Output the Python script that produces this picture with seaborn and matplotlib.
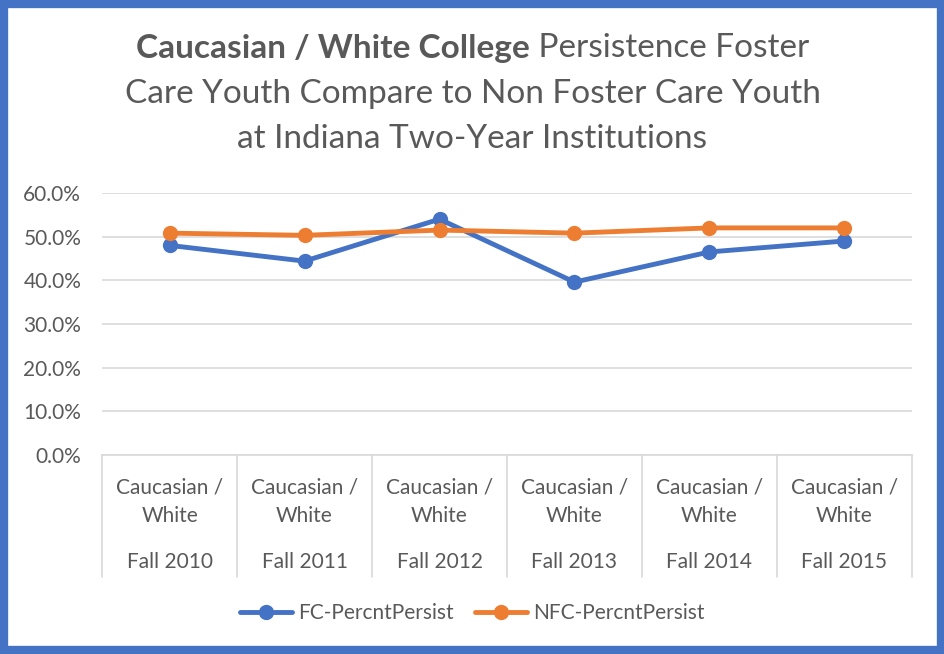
import numpy as np
import pandas as pd
import matplotlib
matplotlib.use("Agg")
import matplotlib.pyplot as plt
from matplotlib.patches import Rectangle
from matplotlib.ticker import PercentFormatter
import seaborn as sns

terms = ['Fall 2010', 'Fall 2011', 'Fall 2012', 'Fall 2013', 'Fall 2014', 'Fall 2015']
group = 'Caucasian /\nWhite'
fc = [48.0, 44.4, 54.0, 39.6, 46.5, 49.0]
nfc = [50.8, 50.3, 51.5, 50.8, 52.0, 52.0]
series = ['FC-PercntPersist', 'NFC-PercntPersist']
colors = ['#4472C4', '#ED7D31']

df = pd.DataFrame({
    'term': terms * 2,
    'value': fc + nfc,
    'series': [series[0]] * len(terms) + [series[1]] * len(terms),
})
df['x'] = list(range(len(terms))) * 2

sns.set_style('white')
plt.rcParams['font.family'] = ['Lato', 'DejaVu Sans']
grey = '#595959'

fig = plt.figure(figsize=(9.45, 6.54), dpi=100)
ax = fig.add_axes([0.108, 0.304, 0.857, 0.401])

sns.lineplot(data=df, x='x', y='value', hue='series', palette=colors,
             marker='o', markersize=11, markeredgewidth=0, linewidth=3.5,
             ax=ax, legend=False)

ax.set_xlim(-0.5, len(terms) - 0.5)
ax.set_ylim(0, 60)
ax.set_yticks(np.arange(0, 61, 10))
ax.yaxis.set_major_formatter(PercentFormatter(decimals=1))
ax.tick_params(axis='y', labelsize=15, labelcolor=grey, length=0, pad=15)
ax.set_xticks([])
ax.set_xlabel('')
ax.set_ylabel('')
ax.grid(axis='y', color='#d9d9d9', linewidth=1.2)
ax.set_axisbelow(True)
for s in ['top', 'right', 'left']:
    ax.spines[s].set_visible(False)
ax.spines['bottom'].set_color('#d9d9d9')
ax.spines['bottom'].set_linewidth(1.2)

# category labels below the axis
trans = ax.get_xaxis_transform()
for i, t in enumerate(terms):
    ax.text(i, -0.178, group, transform=trans, ha='center', va='center',
            fontsize=15, color=grey, linespacing=1.5)
    ax.text(i, -0.408, t, transform=trans, ha='center', va='center',
            fontsize=15, color=grey)
for i in range(len(terms) + 1):
    ax.plot([i - 0.5, i - 0.5], [0, -0.465], transform=trans, color='#d9d9d9',
            linewidth=1.2, clip_on=False)

# title with bold leading part
fig.canvas.draw()
r = fig.canvas.get_renderer()
bold = fig.text(0, 0.926, 'Caucasian / White College', fontsize=24,
                fontweight='bold', color=grey, ha='left', va='center')
rest = fig.text(0, 0.926, ' Persistence Foster', fontsize=24,
                color=grey, ha='left', va='center')
wb = bold.get_window_extent(r).width
wr = rest.get_window_extent(r).width
x0 = (fig.bbox.width - wb - wr) / 2 / fig.bbox.width
bold.set_x(x0)
rest.set_x(x0 + wb / fig.bbox.width)
fig.text(0.5, 0.856, 'Care Youth Compare to Non Foster Care Youth', fontsize=24,
         color=grey, ha='center', va='center')
fig.text(0.5, 0.787, 'at Indiana Two-Year Institutions', fontsize=24,
         color=grey, ha='center', va='center')

handles = [plt.Line2D([], [], color=c, marker='o', markersize=11,
                      markeredgewidth=0, linewidth=3.5) for c in colors]
fig.legend(handles, series, loc='center', bbox_to_anchor=(0.5, 0.062), ncol=2,
           frameon=False, fontsize=15, labelcolor=grey, handlelength=2.5,
           columnspacing=1.0, handletextpad=0.3)

fig.patches.append(Rectangle((0.004, 0.006), 0.992, 0.988, transform=fig.transFigure,
                             fill=False, edgecolor='#4472C4', linewidth=6))

fig.savefig('out.png', dpi=100, facecolor='white')
